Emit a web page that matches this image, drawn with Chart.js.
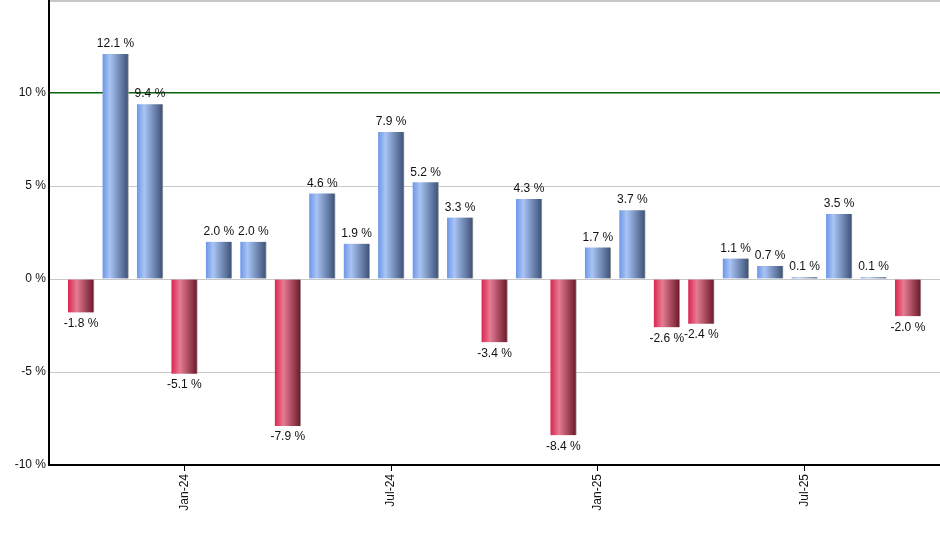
<!DOCTYPE html>
<html>
<head>
<meta charset="utf-8">
<script src="https://cdn.jsdelivr.net/npm/chart.js@4"></script>
<style>
    html, body { margin: 0; padding: 0; background: #fff; }
    #wrap { width: 940px; height: 550px; }
</style>
</head>
<body>
<div id="wrap"><canvas id="grafico"></canvas></div>
<script>
const meses = ["Oct-23", "Nov-23", "Dec-23", "Jan-24", "Feb-24", "Mar-24", "Apr-24", "May-24", "Jun-24",
    "Jul-24", "Aug-24", "Sep-24", "Oct-24", "Nov-24", "Dec-24", "Jan-25", "Feb-25", "Mar-25",
    "Apr-25", "May-25", "Jun-25", "Jul-25", "Aug-25", "Sep-25", "Oct-25"];
const valores = [-1.8, 12.1, 9.4, -5.1, 2.0, 2.0, -7.9, 4.6, 1.9, 7.9, 5.2, 3.3, -3.4, 4.3, -8.4,
    1.7, 3.7, -2.6, -2.4, 1.1, 0.7, 0.1, 3.5, 0.1, -2.0];
const ticksX = [3, 9, 15, 21];
const ticksY = [-10, -5, 0, 5, 10, 15];

const corBarra = (c) => {
    const chart = c.chart;
    const positivo = c.raw && c.raw.y >= 0;
    if (!chart.chartArea || !c.raw) return positivo ? "#7fa3e8" : "#c83a58";
    const x = chart.scales.x.getPixelForValue(c.raw.x);
    const g = chart.ctx.createLinearGradient(x - 13, 0, x + 13, 0);
    if (positivo) {
        g.addColorStop(0, "#6c96e6");
        g.addColorStop(0.28, "#a9c4f5");
        g.addColorStop(1, "#3b5075");
    } else {
        g.addColorStop(0, "#dc2450");
        g.addColorStop(0.33, "#e57c92");
        g.addColorStop(1, "#6a1729");
    }
    return g;
};

const rotulos = {
    id: "rotulos",
    afterDatasetsDraw(chart) {
        const ctx = chart.ctx;
        const meta = chart.getDatasetMeta(0);
        ctx.save();
        ctx.font = '12px "Liberation Sans", Arial, sans-serif';
        ctx.fillStyle = "#111";
        ctx.textAlign = "center";
        meta.data.forEach((bar, i) => {
            const v = valores[i];
            const texto = v.toFixed(1) + " %";
            if (v >= 0) {
                ctx.textBaseline = "bottom";
                ctx.fillText(texto, bar.x, bar.y - 4);
            } else {
                ctx.textBaseline = "top";
                ctx.fillText(texto, bar.x, bar.y + 5);
            }
        });
        ctx.restore();
    }
};

new Chart(document.getElementById("grafico"), {
    type: "bar",
    data: {
        datasets: [{
            data: valores.map((v, i) => ({ x: i, y: v })),
            backgroundColor: corBarra,
            borderColor: "#a0a0a0",
            borderWidth: { right: 1, left: 0, top: 0, bottom: 0 },
            borderSkipped: "start",
            barThickness: 26
        }]
    },
    plugins: [rotulos],
    options: {
        responsive: true,
        maintainAspectRatio: false,
        animation: false,
        layout: { padding: 0 },
        plugins: { legend: { display: false }, tooltip: { enabled: false } },
        scales: {
            x: {
                type: "linear",
                offset: false,
                min: -0.93,
                max: 24.93,
                afterBuildTicks: (scale) => { scale.ticks = ticksX.map(v => ({ value: v })); },
                afterFit: (scale) => { scale.height = 85; scale.paddingLeft = 0; scale.paddingRight = 0; },
                ticks: {
                    autoSkip: false,
                    minRotation: 90,
                    maxRotation: 90,
                    color: "#111",
                    padding: 3,
                    font: { family: '"Liberation Sans", Arial, sans-serif', size: 12 },
                    callback: (v) => meses[v]
                },
                grid: { offset: false, drawOnChartArea: false, drawTicks: true, tickLength: 6, color: "#000" },
                border: { color: "#000", width: 2 }
            },
            y: {
                min: -10,
                max: 15,
                afterBuildTicks: (scale) => { scale.ticks = ticksY.map(v => ({ value: v })); },
                afterFit: (scale) => { scale.width = 49; scale.paddingTop = 0; scale.paddingBottom = 0; },
                ticks: {
                    color: "#111",
                    padding: 3,
                    font: { family: '"Liberation Sans", Arial, sans-serif', size: 12 },
                    callback: (v) => v === 15 ? "" : v + " %"
                },
                grid: {
                    drawTicks: false,
                    color: (c) => c.tick.value === 10 ? "#0a640a" : (c.tick.value === -10 ? "rgba(0,0,0,0)" : "#c8c8c8"),
                    lineWidth: (c) => c.tick.value === 15 ? 4 : (c.tick.value === 10 ? 1.5 : 1)
                },
                border: { color: "#000", width: 2 }
            }
        }
    }
});
</script>
</body>
</html>
